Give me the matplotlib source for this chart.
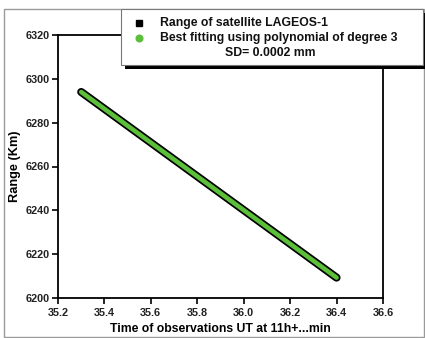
import numpy as np
import matplotlib
matplotlib.use("Agg")
import matplotlib.pyplot as plt
from matplotlib.patches import Rectangle
from matplotlib.lines import Line2D

# ---- data ----
time_min = [35.30, 35.40, 35.50, 35.60, 35.70, 35.80, 35.90, 36.00,
            36.10, 36.20, 36.30, 36.40]
range_km = [6294.0, 6286.3, 6278.6, 6270.9, 6263.2, 6255.5, 6247.8,
            6240.1, 6232.4, 6224.7, 6217.0, 6209.3]
x_ticks = [35.2, 35.4, 35.6, 35.8, 36.0, 36.2, 36.4, 36.6]
y_ticks = [6200, 6220, 6240, 6260, 6280, 6300, 6320]
label_obs = "Range of satellite LAGEOS-1"
label_fit = "Best fitting using polynomial of degree 3"
sd_text = "SD= 0.0002 mm"
x_label = "Time of observations UT at 11h+...min"
y_label = "Range (Km)"

plt.rcParams['font.family'] = ['Liberation Sans', 'DejaVu Sans']

W, H = 425, 338
fig = plt.figure(figsize=(W / 100, H / 100), dpi=100)
ax = fig.add_axes([58 / W, 1 - 298 / H, (383 - 58) / W, (298 - 35) / H])

# observed range (thick black band)
ax.plot(time_min, range_km, color='black', linewidth=5.8,
        solid_capstyle='round', zorder=3)
# degree-3 polynomial fit
coef = np.polyfit(time_min, range_km, 3)
tt = np.linspace(min(time_min), max(time_min), 200)
ax.plot(tt, np.polyval(coef, tt), color='#5bbf3a', linewidth=3.3,
        solid_capstyle='round', zorder=4)

ax.set_xlim(35.2, 36.6)
ax.set_ylim(6200, 6320)
ax.set_xticks(x_ticks)
ax.set_xticklabels([f"{v:.1f}" for v in x_ticks])
ax.set_yticks(y_ticks)
for s in ax.spines.values():
    s.set_linewidth(1.3)
ax.tick_params(direction='out', length=4.5, width=1.2, labelsize=7.8,
               colors='black', labelcolor='#222222', pad=1.5)
ax.tick_params(axis='x', pad=3)
for lab in ax.get_xticklabels() + ax.get_yticklabels():
    lab.set_fontweight('bold')
ax.set_xlabel(x_label, fontsize=8.8, fontweight='bold', labelpad=3)
ax.set_ylabel(y_label, fontsize=9.2, fontweight='bold', labelpad=3)

# outer grey frame
fig.add_artist(Rectangle((4 / W, 1 - 337 / H), (424 - 4) / W, (337 - 9) / H,
                         transform=fig.transFigure, fill=False,
                         edgecolor='#9a9a9a', linewidth=1.0, zorder=0))

# legend box with shadow
lx0, lx1, ly0, ly1 = 121, 423, 9, 65
fig.add_artist(Rectangle(((lx0 + 4) / W, 1 - (ly1 + 4) / H),
                         (lx1 - lx0) / W, (ly1 - ly0) / H,
                         transform=fig.transFigure, facecolor='black',
                         edgecolor='none', zorder=5))
fig.add_artist(Rectangle((lx0 / W, 1 - ly1 / H), (lx1 - lx0) / W, (ly1 - ly0) / H,
                         transform=fig.transFigure, facecolor='white',
                         edgecolor='#777777', linewidth=0.8, zorder=6))
fig.add_artist(Line2D([139 / W], [1 - 23 / H], marker='s', markersize=4.2,
                      color='black', linestyle='none', transform=fig.transFigure,
                      zorder=7))
fig.add_artist(Line2D([139 / W], [1 - 38 / H], marker='o', markersize=4.8,
                      color='#5bbf3a', linestyle='none', transform=fig.transFigure,
                      zorder=7))
fig.text(160 / W, 1 - 23 / H, label_obs, fontsize=8.8, fontweight='bold',
         va='center', ha='left', zorder=8, color='#111111')
fig.text(160 / W, 1 - 38 / H, label_fit, fontsize=8.8, fontweight='bold',
         va='center', ha='left', zorder=8, color='#111111')
fig.text(270 / W, 1 - 53 / H, sd_text, fontsize=8.8, fontweight='bold',
         va='center', ha='center', zorder=8, color='#111111')

fig.savefig("out.png", dpi=100)
